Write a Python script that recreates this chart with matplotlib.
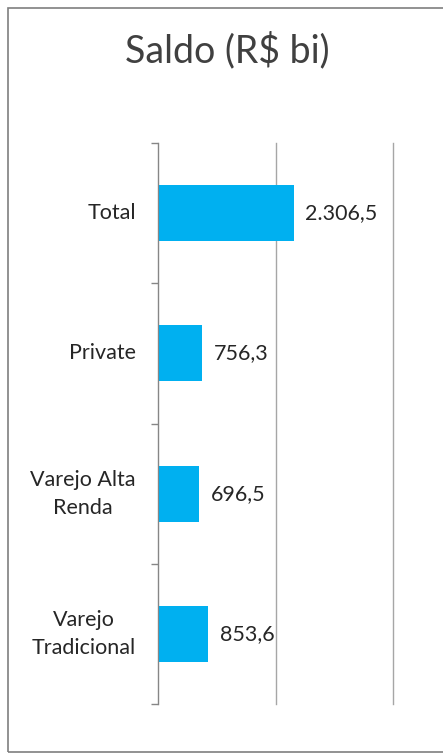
import matplotlib.pyplot as plt
from matplotlib.patches import Rectangle
from matplotlib.transforms import blended_transform_factory

categorias = ['Total', 'Private', 'Varejo Alta\nRenda', 'Varejo\nTradicional']
saldos = [2306.5, 756.3, 696.5, 853.6]
rotulos = ['2.306,5', '756,3', '696,5', '853,6']

plt.rcParams['font.family'] = ['Lato', 'DejaVu Sans']

fig = plt.figure(figsize=(4.43, 7.54), dpi=100)
fig.patches.append(Rectangle((8 / 443, 2 / 754), 1.0, 744 / 754, transform=fig.transFigure,
                             fill=False, edgecolor='#7f7f7f', linewidth=1.2))

# axes: x 158..393 px, y 143..704 px
ax = fig.add_axes([158 / 443, 1 - 704 / 754, 235 / 443, 561 / 754])
pos = list(range(len(categorias)))
ax.barh(pos, saldos, height=0.4, color='#00B0F0')
ax.set_xlim(0, 4000)
ax.set_ylim(len(categorias) - 0.5, -0.5)

for p, v, r in zip(pos, saldos, rotulos):
    ax.text(v + 200, p, r, va='center', ha='left', fontsize=15.5, color='#262626')

ax.set_xticks([0, 2000, 4000])
ax.set_xticklabels([])
ax.tick_params(axis='x', length=0)
ax.grid(axis='x', color='#a6a6a6', linewidth=1)
for gl in ax.get_xgridlines():
    gl.set_clip_on(False)
ax.set_axisbelow(True)

# category labels drawn as text so the two-line ones stay centred
trans = blended_transform_factory(ax.transAxes, ax.transData)
for p, c in zip(pos, categorias):
    ax.text(-22 / 235, p, c, transform=trans, ha='right', va='center',
            multialignment='center', linespacing=1.5, fontsize=15.5, color='#262626')

ax.set_yticks([i - 0.5 for i in range(len(categorias) + 1)])
ax.set_yticklabels([])
ax.tick_params(axis='y', length=5, color='#868686', width=1)

for s in ['top', 'right', 'bottom']:
    ax.spines[s].set_visible(False)
ax.spines['left'].set_color('#868686')

fig.text(227 / 443, 1 - 50 / 754, 'Saldo (R$ bi)', ha='center', va='center',
         fontsize=27, color='#404040')

fig.savefig('out.png', dpi=100)
